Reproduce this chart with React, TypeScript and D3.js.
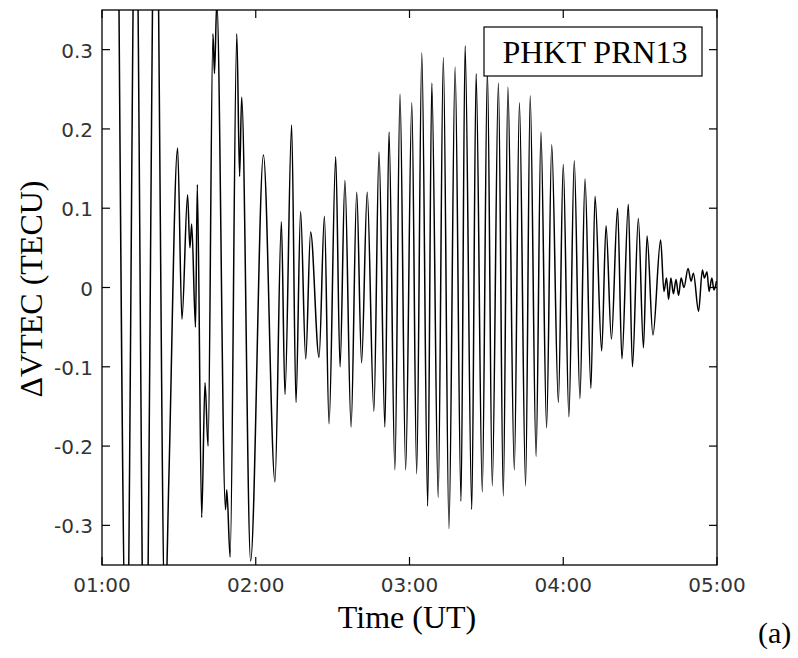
import React from 'react';
import * as d3 from 'd3';

// Time in minutes UT (since 00:00) and ΔVTEC values (TECU) (extrema)
const timeMin = [
  66.2, 69.6, 73.1, 76.8, 80.9, 84.6, 86.1, 89.5, 91.2, 93.4,
  94.3, 95.0, 96.5, 97.2, 98.9, 100.2, 101.4, 103.3, 103.9, 104.8,
  108.2, 108.7, 110.0, 112.6, 113.7, 114.5, 118.0, 123.0, 127.5, 130.0,
  131.4, 134.0, 135.7, 137.5, 139.5, 141.4, 144.7, 146.8, 148.6, 151.2,
  152.9, 154.8, 157.2, 159.4, 161.3, 163.5, 166.1, 168.1, 170.4, 172.0,
  174.3, 176.3, 178.5, 180.9, 182.8, 184.8, 187.1, 188.7, 191.2, 193.2,
  195.4, 197.8, 200.1, 201.7, 204.3, 206.0, 208.4, 210.4, 212.3, 214.7,
  216.6, 218.4, 220.9, 222.9, 225.3, 227.1, 229.4, 231.3, 233.5, 235.5,
  238.1, 240.0, 242.2, 244.3, 246.5, 248.5, 250.8, 252.4, 255.0, 256.7,
  258.8, 261.2, 262.9, 265.4, 267.0, 269.3, 271.3, 272.7, 275.0, 278.0,
  279.3, 280.3, 281.1, 282.0, 283.0, 284.0, 285.0, 286.0, 287.1, 288.7,
  289.9, 290.8, 292.8, 294.3, 295.1, 296.1, 296.9, 298.0, 298.8, 299.8,
];
const dvtec = [
  0.55, -0.5, 0.55, -0.6, 0.6, -0.42, -0.24, 0.176, -0.04, 0.117,
  0.05, 0.08, -0.05, 0.13, -0.29, -0.12, -0.2, 0.32, 0.27, 0.36,
  -0.28, -0.255, -0.34, 0.32, 0.14, 0.24, -0.345, 0.167, -0.245, 0.083,
  -0.135, 0.205, -0.145, 0.096, -0.09, 0.07, -0.088, 0.09, -0.172, 0.165,
  -0.1, 0.135, -0.176, 0.12, -0.095, 0.12, -0.156, 0.171, -0.176, 0.196,
  -0.23, 0.244, -0.23, 0.233, -0.235, 0.296, -0.276, 0.258, -0.265, 0.29,
  -0.304, 0.278, -0.27, 0.305, -0.28, 0.27, -0.258, 0.274, -0.25, 0.258,
  -0.263, 0.253, -0.23, 0.233, -0.25, 0.242, -0.213, 0.196, -0.177, 0.18,
  -0.145, 0.155, -0.163, 0.16, -0.14, 0.137, -0.127, 0.115, -0.08, 0.078,
  -0.065, 0.1, -0.09, 0.105, -0.1, 0.087, -0.076, 0.065, -0.06, 0.06,
  -0.005, 0.012, -0.015, 0.012, -0.008, 0.01, -0.01, 0.012, 0.0, 0.024,
  0.008, 0.018, -0.03, 0.022, 0.012, 0.02, -0.005, 0.012, -0.003, 0.008,
];

const xTickValues = [60, 120, 180, 240, 300];
const xTickLabels = ['01:00', '02:00', '03:00', '04:00', '05:00'];
const yTickValues = [-0.3, -0.2, -0.1, 0, 0.1, 0.2, 0.3];
const yTickLabels = ['-0.3', '-0.2', '-0.1', '0', '0.1', '0.2', '0.3'];
const legendLabel = 'PHKT PRN13';
const xTitle = 'Time (UT)';
const yTitle = 'ΔVTEC (TECU)';
const panelLabel = '(a)';

export default function App() {
  const W = 798;
  const H = 658;
  const L = 102, R = 717, T = 10, B = 565;
  const x = d3.scaleLinear().domain([60, 300]).range([L, R]);
  const y = d3.scaleLinear().domain([-0.35, 0.35]).range([B, T]);
  const pts: [number, number][] = timeMin.map((t, i) => [t, dvtec[i]]);
  const line = d3
    .line<[number, number]>()
    .x((d) => x(d[0]))
    .y((d) => y(d[1]))
    .curve(d3.curveMonotoneX);
  const tickLen = 8;
  const serif = '"Liberation Serif", "Times New Roman", serif';
  const sans = '"DejaVu Sans", sans-serif';

  return (
    <svg
      width={W}
      height={H}
      viewBox={`0 0 ${W} ${H}`}
      style={{ position: 'absolute', left: 0, top: 0, background: '#fff' }}
    >
      <rect x={0} y={0} width={W} height={H} fill="#fff" />
      <defs>
        <clipPath id="plotClip">
          <rect x={L} y={T} width={R - L} height={B - T} />
        </clipPath>
      </defs>
      <path
        d={line(pts) || ''}
        fill="none"
        stroke="#000"
        strokeWidth={1.5}
        strokeLinejoin="round"
        clipPath="url(#plotClip)"
      />
      {/* ticks */}
      {xTickValues.map((v, i) => (
        <g key={'xt' + i}>
          <line x1={x(v)} x2={x(v)} y1={B} y2={B - tickLen} stroke="#000" strokeWidth={1.2} />
          <line x1={x(v)} x2={x(v)} y1={T} y2={T + tickLen} stroke="#000" strokeWidth={1.2} />
          <text
            x={x(v)}
            y={592}
            textAnchor="middle"
            fontFamily={sans}
            fontSize={20}
            fill="#333"
          >
            {xTickLabels[i]}
          </text>
        </g>
      ))}
      {yTickValues.map((v, i) => (
        <g key={'yt' + i}>
          <line x1={L} x2={L + tickLen} y1={y(v)} y2={y(v)} stroke="#000" strokeWidth={1.2} />
          <line x1={R} x2={R - tickLen} y1={y(v)} y2={y(v)} stroke="#000" strokeWidth={1.2} />
          <text
            x={93}
            y={y(v) + 8}
            textAnchor="end"
            fontFamily={sans}
            fontSize={20}
            fill="#333"
          >
            {yTickLabels[i]}
          </text>
        </g>
      ))}
      <rect x={L} y={T} width={R - L} height={B - T} fill="none" stroke="#000" strokeWidth={1.3} />
      {/* legend */}
      <rect x={484} y={27} width={218} height={49} fill="#fff" stroke="#000" strokeWidth={1.2} />
      <text x={595} y={62.5} textAnchor="middle" fontFamily={serif} fontSize={32} fill="#000">
        {legendLabel}
      </text>
      {/* titles */}
      <text x={407} y={628} textAnchor="middle" fontFamily={serif} fontSize={32} fill="#000">
        {xTitle}
      </text>
      <text
        transform={`translate(42, 289) rotate(-90)`}
        textAnchor="middle"
        fontFamily={serif}
        fontSize={32}
        fill="#000"
      >
        {yTitle}
      </text>
      <text x={758} y={643} fontFamily={serif} fontSize={30} fill="#000">
        {panelLabel}
      </text>
    </svg>
  );
}
